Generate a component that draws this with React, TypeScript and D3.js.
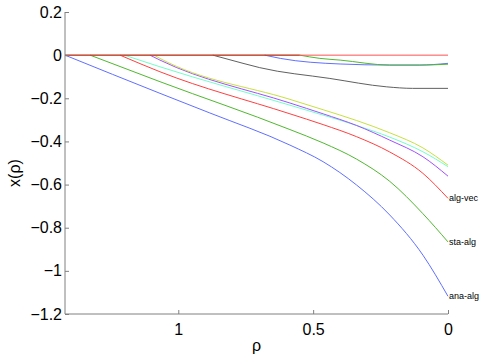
import { useEffect, useRef } from "react";
import * as d3 from "d3";

// rho values run from left (large) to right (0)
const RHO_MAX = 1.42;

const anaAlgRho = [1.42, 1.068, 0.883, 0.586, 0.463, 0.339, 0.216, 0.093, 0];
const anaAlgVal = [0, -0.177, -0.268, -0.417, -0.494, -0.602, -0.741, -0.927, -1.118];

const staAlgRho = [1.327, 1.068, 0.586, 0.463, 0.339, 0.216, 0.093, 0];
const staAlgVal = [0, -0.123, -0.345, -0.407, -0.482, -0.585, -0.735, -0.866];

const algVecRho = [1.216, 1.068, 0.586, 0.463, 0.339, 0.216, 0.093, 0];
const algVecVal = [0, -0.077, -0.272, -0.322, -0.378, -0.449, -0.548, -0.664];

const cyanRho = [1.2, 1.068, 0.586, 0.463, 0.339, 0.216, 0.093, 0];
const cyanVal = [0, -0.054, -0.232, -0.278, -0.326, -0.38, -0.448, -0.517];

const purpleRho = [1.105, 1.068, 0.586, 0.463, 0.339, 0.216, 0.093, 0];
const purpleVal = [0, -0.023, -0.222, -0.272, -0.326, -0.394, -0.471, -0.561];

const yellowRho = [1.09, 1.068, 0.586, 0.463, 0.339, 0.216, 0.093, 0];
const yellowVal = [0, -0.015, -0.205, -0.253, -0.303, -0.36, -0.43, -0.51];

const grayRho = [0.872, 0.76, 0.698, 0.438, 0.227, 0.131, 0];
const grayVal = [0, -0.038, -0.058, -0.108, -0.147, -0.154, -0.154];

const blueUpRho = [0.68, 0.622, 0.4, 0.216, 0.105, 0];
const blueUpVal = [0, -0.015, -0.041, -0.046, -0.046, -0.038];

const greenUpRho = [0.55, 0.475, 0.4, 0.216, 0.1, 0];
const greenUpVal = [0, -0.015, -0.023, -0.046, -0.046, -0.042];

const redZeroRho = [1.42, 0];
const redZeroVal = [0, 0];

const brownZeroRho = [1.42, 0.55];
const brownZeroVal = [0, 0];

const xTicks = [1, 0.5, 0];
const yTicks = [0.2, 0, -0.2, -0.4, -0.6, -0.8, -1, -1.2];

const series = [
  { rho: anaAlgRho, val: anaAlgVal, color: "#6070ff", label: "ana-alg" },
  { rho: staAlgRho, val: staAlgVal, color: "#50b830", label: "sta-alg" },
  { rho: algVecRho, val: algVecVal, color: "#ff4040", label: "alg-vec" },
  { rho: cyanRho, val: cyanVal, color: "#70ffc8", label: "" },
  { rho: purpleRho, val: purpleVal, color: "#a050ff", label: "" },
  { rho: yellowRho, val: yellowVal, color: "#c8e040", label: "" },
  { rho: grayRho, val: grayVal, color: "#606060", label: "" },
  { rho: blueUpRho, val: blueUpVal, color: "#6070ff", label: "" },
  { rho: greenUpRho, val: greenUpVal, color: "#50b830", label: "" },
  { rho: redZeroRho, val: redZeroVal, color: "#ff5050", label: "" },
  { rho: brownZeroRho, val: brownZeroVal, color: "#a0401c", label: "" },
];

export default function App() {
  const svgRef = useRef<SVGSVGElement>(null);

  useEffect(() => {
    const width = 485;
    const height = 356;
    const margin = { top: 12, right: 37, bottom: 42, left: 65 };

    const svg = d3.select(svgRef.current);
    svg.selectAll("*").remove();
    svg
      .attr("width", width)
      .attr("height", height)
      .style("background", "#fff")
      .style("font-family", "'Liberation Sans', Arial, sans-serif");

    const x = d3
      .scaleLinear()
      .domain([RHO_MAX, 0])
      .range([margin.left, width - margin.right]);

    const y = d3
      .scaleLinear()
      .domain([-1.2, 0.2])
      .range([height - margin.bottom, margin.top]);

    const line = d3
      .line<[number, number]>()
      .x((d) => x(d[0]))
      .y((d) => y(d[1]))
      .curve(d3.curveMonotoneX);

    series.forEach((s) => {
      const pts = s.rho.map((r, i) => [r, s.val[i]] as [number, number]);
      svg
        .append("path")
        .attr("d", line(pts))
        .attr("fill", "none")
        .attr("stroke", s.color)
        .attr("stroke-width", 1);
      if (s.label) {
        const last = pts[pts.length - 1];
        svg
          .append("text")
          .attr("x", x(last[0]) + 1)
          .attr("y", y(last[1]) + 3)
          .style("font-size", "9px")
          .attr("fill", "#000")
          .text(s.label);
      }
    });

    const axisColor = "#808080";

    // bottom axis
    const xAxis = d3.axisBottom(x).tickValues(xTicks).tickSizeInner(-4).tickSizeOuter(-4).tickFormat(d3.format("~g"));
    const gx = svg
      .append("g")
      .attr("transform", `translate(0, ${height - margin.bottom})`)
      .call(xAxis);
    gx.selectAll("path, line").attr("stroke", axisColor);
    gx.selectAll("text")
      .attr("fill", "#000")
      .attr("dy", "0")
      .attr("y", 21)
      .style("font-size", "16px");

    // left axis
    const yAxis = d3
      .axisLeft(y)
      .tickValues(yTicks)
      .tickSizeInner(-4)
      .tickSizeOuter(-4)
      .tickFormat((d) => d3.format("~g")(d as number).replace("-", "\u2212"));
    const gy = svg
      .append("g")
      .attr("transform", `translate(${margin.left}, 0)`)
      .call(yAxis);
    gy.selectAll("path, line").attr("stroke", axisColor);
    gy.selectAll("text")
      .attr("fill", "#000")
      .attr("x", -3)
      .style("font-size", "16px");
    gy.select(".domain").attr("d", `M0,${margin.top}V${height - margin.bottom}`);
    gx.select(".domain").attr("d", `M${margin.left},0H${width - margin.right}`);

    svg
      .append("text")
      .attr("x", (margin.left + width - margin.right) / 2)
      .attr("y", 351)
      .attr("text-anchor", "middle")
      .style("font-size", "16px")
      .text("ρ");

    svg
      .append("text")
      .attr("transform", `translate(20, ${(margin.top + height - margin.bottom) / 2 + 10}) rotate(-90)`)
      .attr("text-anchor", "middle")
      .style("font-size", "16px")
      .text("x(ρ)");
  }, []);

  return <svg ref={svgRef} style={{ position: "absolute", left: 0, top: 0 }}></svg>;
}
